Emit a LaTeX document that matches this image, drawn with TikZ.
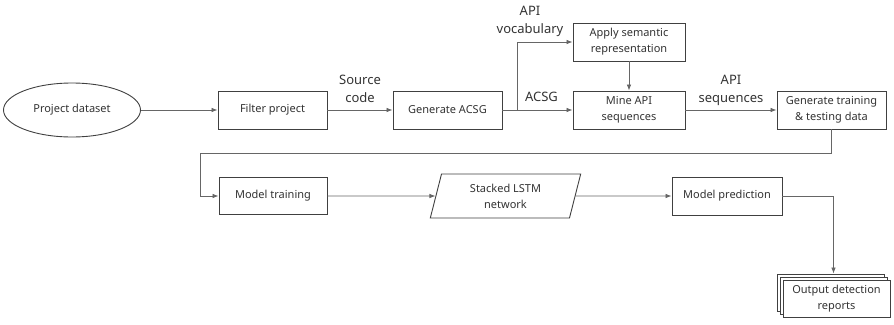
\documentclass[tikz,border=0pt]{standalone}
\usepackage{fontspec}
\setmainfont{Noto Sans}
\usepackage{tikz}
\usetikzlibrary{arrows.meta, positioning, shapes.geometric, shadows}

\tikzset{
  procbox/.style={draw=black!75, line width=0.9pt, fill=white, text=black!80,
    align=center, inner sep=2pt, font=\fontsize{11pt}{16pt}\selectfont},
  flow/.style={draw=black!60, line width=0.7pt, -{Latex[length=6pt,width=4.5pt]}},
  flowlabel/.style={text=black!80, align=center, inner sep=1pt,
    font=\fontsize{13pt}{18pt}\selectfont}
}

\begin{document}
\begin{tikzpicture}[x=1pt, y=-1pt]
    \useasboundingbox (0,0) rectangle (894,324);

    % Top row
    \node[procbox, ellipse, minimum width=137pt, minimum height=54pt] (dataset) at (72,110) {Project dataset};
    \node[procbox, minimum width=109pt, minimum height=38pt] (filter) at (272.5,110) {Filter project};
    \node[procbox, minimum width=109pt, minimum height=38pt] (acsg) at (447.5,110) {Generate ACSG};
    \node[procbox, minimum width=112pt, minimum height=38pt] (semantic) at (629,42) {Apply semantic\\representation};
    \node[procbox, minimum width=112pt, minimum height=38pt] (mine) at (629,110) {Mine API\\sequences};
    \node[procbox, minimum width=109pt, minimum height=38pt] (gendata) at (831.5,110) {Generate training\\\& testing data};

    % Bottom row
    \node[procbox, minimum width=108pt, minimum height=37pt] (training) at (273,196) {Model training};
    \node[procbox, trapezium, trapezium left angle=77, trapezium right angle=103, trapezium stretches=true,
          minimum width=151pt, minimum height=44pt] (lstm) at (505.5,196) {Stacked LSTM\\network};
    \node[procbox, minimum width=110pt, minimum height=38pt] (predict) at (727,196) {Model prediction};
    \node[procbox, minimum width=107pt, minimum height=37pt,
          double copy shadow={shadow xshift=-3pt, shadow yshift=3pt, draw=black!75, fill=white}] (reports) at (836.5,298.5) {Output detection\\reports};

    % Connectors
    \coordinate (branch) at (517,110);
    \coordinate (loop) at (200,153);
    \draw[flow] (dataset) -- (filter);
    \draw[flow] (filter) -- node[flowlabel, above=6pt] {Source\\code} (acsg);
    \draw[flow] (acsg) -- node[flowlabel, above=7pt, xshift=4pt] {ACSG} (mine);
    \draw[flow] (branch) |- (semantic);
    \node[flowlabel] at (530,21) {API\\vocabulary};
    \draw[flow] (semantic) -- (mine);
    \draw[flow] (mine) -- node[flowlabel, above=3pt] {API\\sequences} (gendata);
    \draw[flow] (gendata.south) |- (loop) |- (training);
    \draw[flow] (training) -- (lstm);
    \draw[flow] (lstm) -- (predict);
    \draw[flow] (predict) -| ([xshift=-3pt, yshift=6pt]reports.north);
\end{tikzpicture}
\end{document}
